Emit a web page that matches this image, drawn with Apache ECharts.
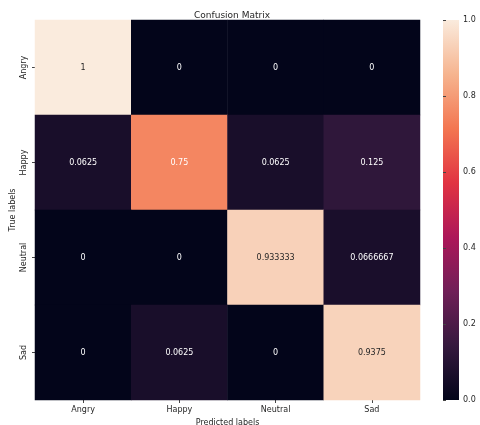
<!DOCTYPE html>
<html>
<head>
<meta charset="utf-8">
<script src="https://cdn.jsdelivr.net/npm/echarts@6/dist/echarts.min.js"></script>
<style>
  html, body { margin: 0; padding: 0; background: #fff; }
  #chart { width: 480px; height: 425px; }
</style>
</head>
<body>
<div id="chart"></div>
<script>
var classes = ['Angry', 'Happy', 'Neutral', 'Sad'];
// rows = true labels, columns = predicted labels
var matrix = [
  [1, 0, 0, 0],
  [0.0625, 0.75, 0.0625, 0.125],
  [0, 0, 0.933333, 0.0666667],
  [0, 0.0625, 0, 0.9375]
];
var colorbarTicks = [0, 0.2, 0.4, 0.6, 0.8, 1.0];
// seaborn "rocket" colormap stops
var rocket = ['#03051a', '#35193e', '#701f57', '#ad1759', '#e13342', '#f37651', '#f6b48f', '#faebdd'];

var font = 'DejaVu Sans';
var chart = echarts.init(document.getElementById('chart'));

var cells = [];
for (var i = 0; i < matrix.length; i++) {
  for (var j = 0; j < matrix[i].length; j++) {
    var v = matrix[i][j];
    cells.push({
      value: [j, i, v],
      label: { color: v > 0.8 ? '#262626' : '#ffffff' }
    });
  }
}

var option = {
  backgroundColor: '#ffffff',
  animation: false,
  title: {
    text: 'Confusion Matrix',
    left: 227, top: 6, textAlign: 'center',
    textStyle: { fontFamily: font, fontSize: 9, fontWeight: 'normal', color: '#262626' }
  },
  grid: [
    { left: 35, top: 20, width: 385, height: 380, outerBoundsMode: 'none' },
    { left: 443, top: 20, width: 16, height: 380, outerBoundsMode: 'none' }
  ],
  xAxis: [{
    gridIndex: 0,
    type: 'category',
    data: classes,
    name: 'Predicted labels',
    nameLocation: 'middle',
    nameGap: 17,
    nameTextStyle: { fontFamily: font, fontSize: 8, color: '#262626' },
    axisLine: { show: false },
    axisTick: { show: true, alignWithLabel: true, length: 3, lineStyle: { color: '#444' } },
    axisLabel: { fontFamily: font, fontSize: 8, color: '#262626', margin: 6 },
    splitLine: { show: false }
  }, {
    gridIndex: 1,
    type: 'value',
    show: false
  }],
  yAxis: [{
    gridIndex: 0,
    type: 'category',
    data: classes,
    inverse: true,
    name: 'True labels',
    nameLocation: 'middle',
    nameGap: 18,
    nameMoveOverlap: false,
    nameRotate: 90,
    nameTextStyle: { fontFamily: font, fontSize: 8, color: '#262626' },
    axisLine: { show: false },
    axisTick: { show: true, alignWithLabel: true, length: 3, lineStyle: { color: '#444' } },
    axisLabel: { fontFamily: font, fontSize: 8, color: '#262626', rotate: 90, margin: 7 },
    splitLine: { show: false }
  }, {
    gridIndex: 1,
    type: 'value',
    position: 'right',
    min: colorbarTicks[0], max: colorbarTicks[colorbarTicks.length - 1], interval: 0.2,
    axisLine: { show: false },
    axisTick: { show: true, inside: false, length: 3, lineStyle: { color: '#444' } },
    axisLabel: {
      fontFamily: font, fontSize: 8, color: '#262626', margin: 4,
      formatter: function (v) { return v.toFixed(1); }
    },
    splitLine: { show: false }
  }],
  visualMap: {
    show: false,
    min: 0, max: 1,
    seriesIndex: 0,
    dimension: 2,
    inRange: { color: rocket }
  },
  graphic: [{
    type: 'rect',
    shape: { x: 443, y: 20, width: 16, height: 380 },
    style: {
      fill: new echarts.graphic.LinearGradient(0, 1, 0, 0,
        rocket.map(function (c, k) { return { offset: k / (rocket.length - 1), color: c }; }))
    },
    z: -1
  }],
  series: [{
    type: 'heatmap',
    xAxisIndex: 0,
    yAxisIndex: 0,
    data: cells,
    label: {
      show: true,
      fontFamily: font,
      fontSize: 8,
      formatter: function (p) { return String(p.value[2]); }
    },
    itemStyle: { borderWidth: 0 },
    emphasis: { disabled: true }
  }]
};
chart.setOption(option);
</script>
</body>
</html>
